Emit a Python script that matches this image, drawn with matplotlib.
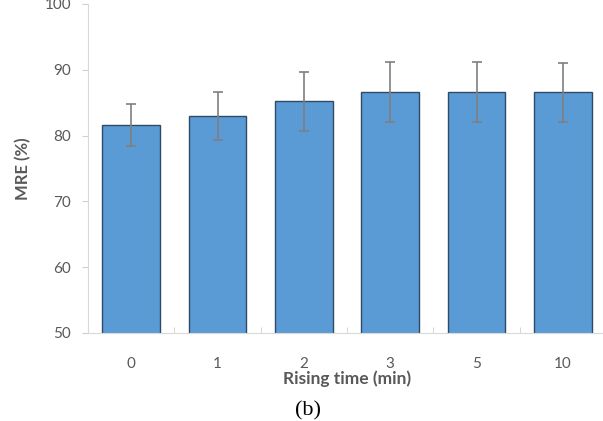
import numpy as np
import matplotlib.pyplot as plt

# rising time categories and mean recovery
times = ['0', '1', '2', '3', '5', '10']
mre = [81.6, 83.0, 85.2, 86.6, 86.6, 86.6]
err = [3.2, 3.6, 4.5, 4.6, 4.6, 4.5]

fig = plt.figure(figsize=(6.03, 4.21), dpi=100)
ax = fig.add_axes([88/603, 88/421, 518/603, 329/421])

x = np.arange(len(times))
ax.bar(x, mre, width=0.67, color='#5B9BD5', edgecolor='#2E4A66', linewidth=1.0, zorder=2)
ax.errorbar(x, mre, yerr=err, fmt='none', ecolor='#7F7F7F', elinewidth=1.2,
            capsize=3.5, capthick=1.2, zorder=3)

ax.set_xlim(-0.5, len(times) - 0.5)
ax.set_ylim(50, 100)
ax.set_yticks([50, 60, 70, 80, 90, 100])
ax.set_xticks(x)
ax.set_xticklabels(times)
# small category separator ticks
ax.set_xticks(np.arange(0.5, len(times) - 0.5), minor=True)
ax.tick_params(axis='x', which='major', length=0, pad=17, labelsize=11, labelcolor='#595959')
ax.tick_params(axis='x', which='minor', direction='in', length=4, color='#D0D0D0')
ax.tick_params(axis='y', length=4, color='#D0D0D0', labelsize=11, labelcolor='#595959', pad=8)

for s in ['top', 'right']:
    ax.spines[s].set_visible(False)
for s in ['left', 'bottom']:
    ax.spines[s].set_color('#D9D9D9')

font = ['Lato', 'DejaVu Sans']
for lab in ax.get_xticklabels() + ax.get_yticklabels():
    lab.set_family(font)

ax.set_ylabel('MRE (%)', family=font, fontsize=12, fontweight='bold', color='#595959', labelpad=10)
ax.set_xlabel('Rising time (min)', family=font, fontsize=12.5, fontweight='bold', color='#595959', labelpad=0)

fig.text(308/603, 1 - 411/421, '(b)', family='Liberation Serif', fontsize=16,
         ha='center', va='center', color='black')

fig.savefig('out.png', dpi=100)
